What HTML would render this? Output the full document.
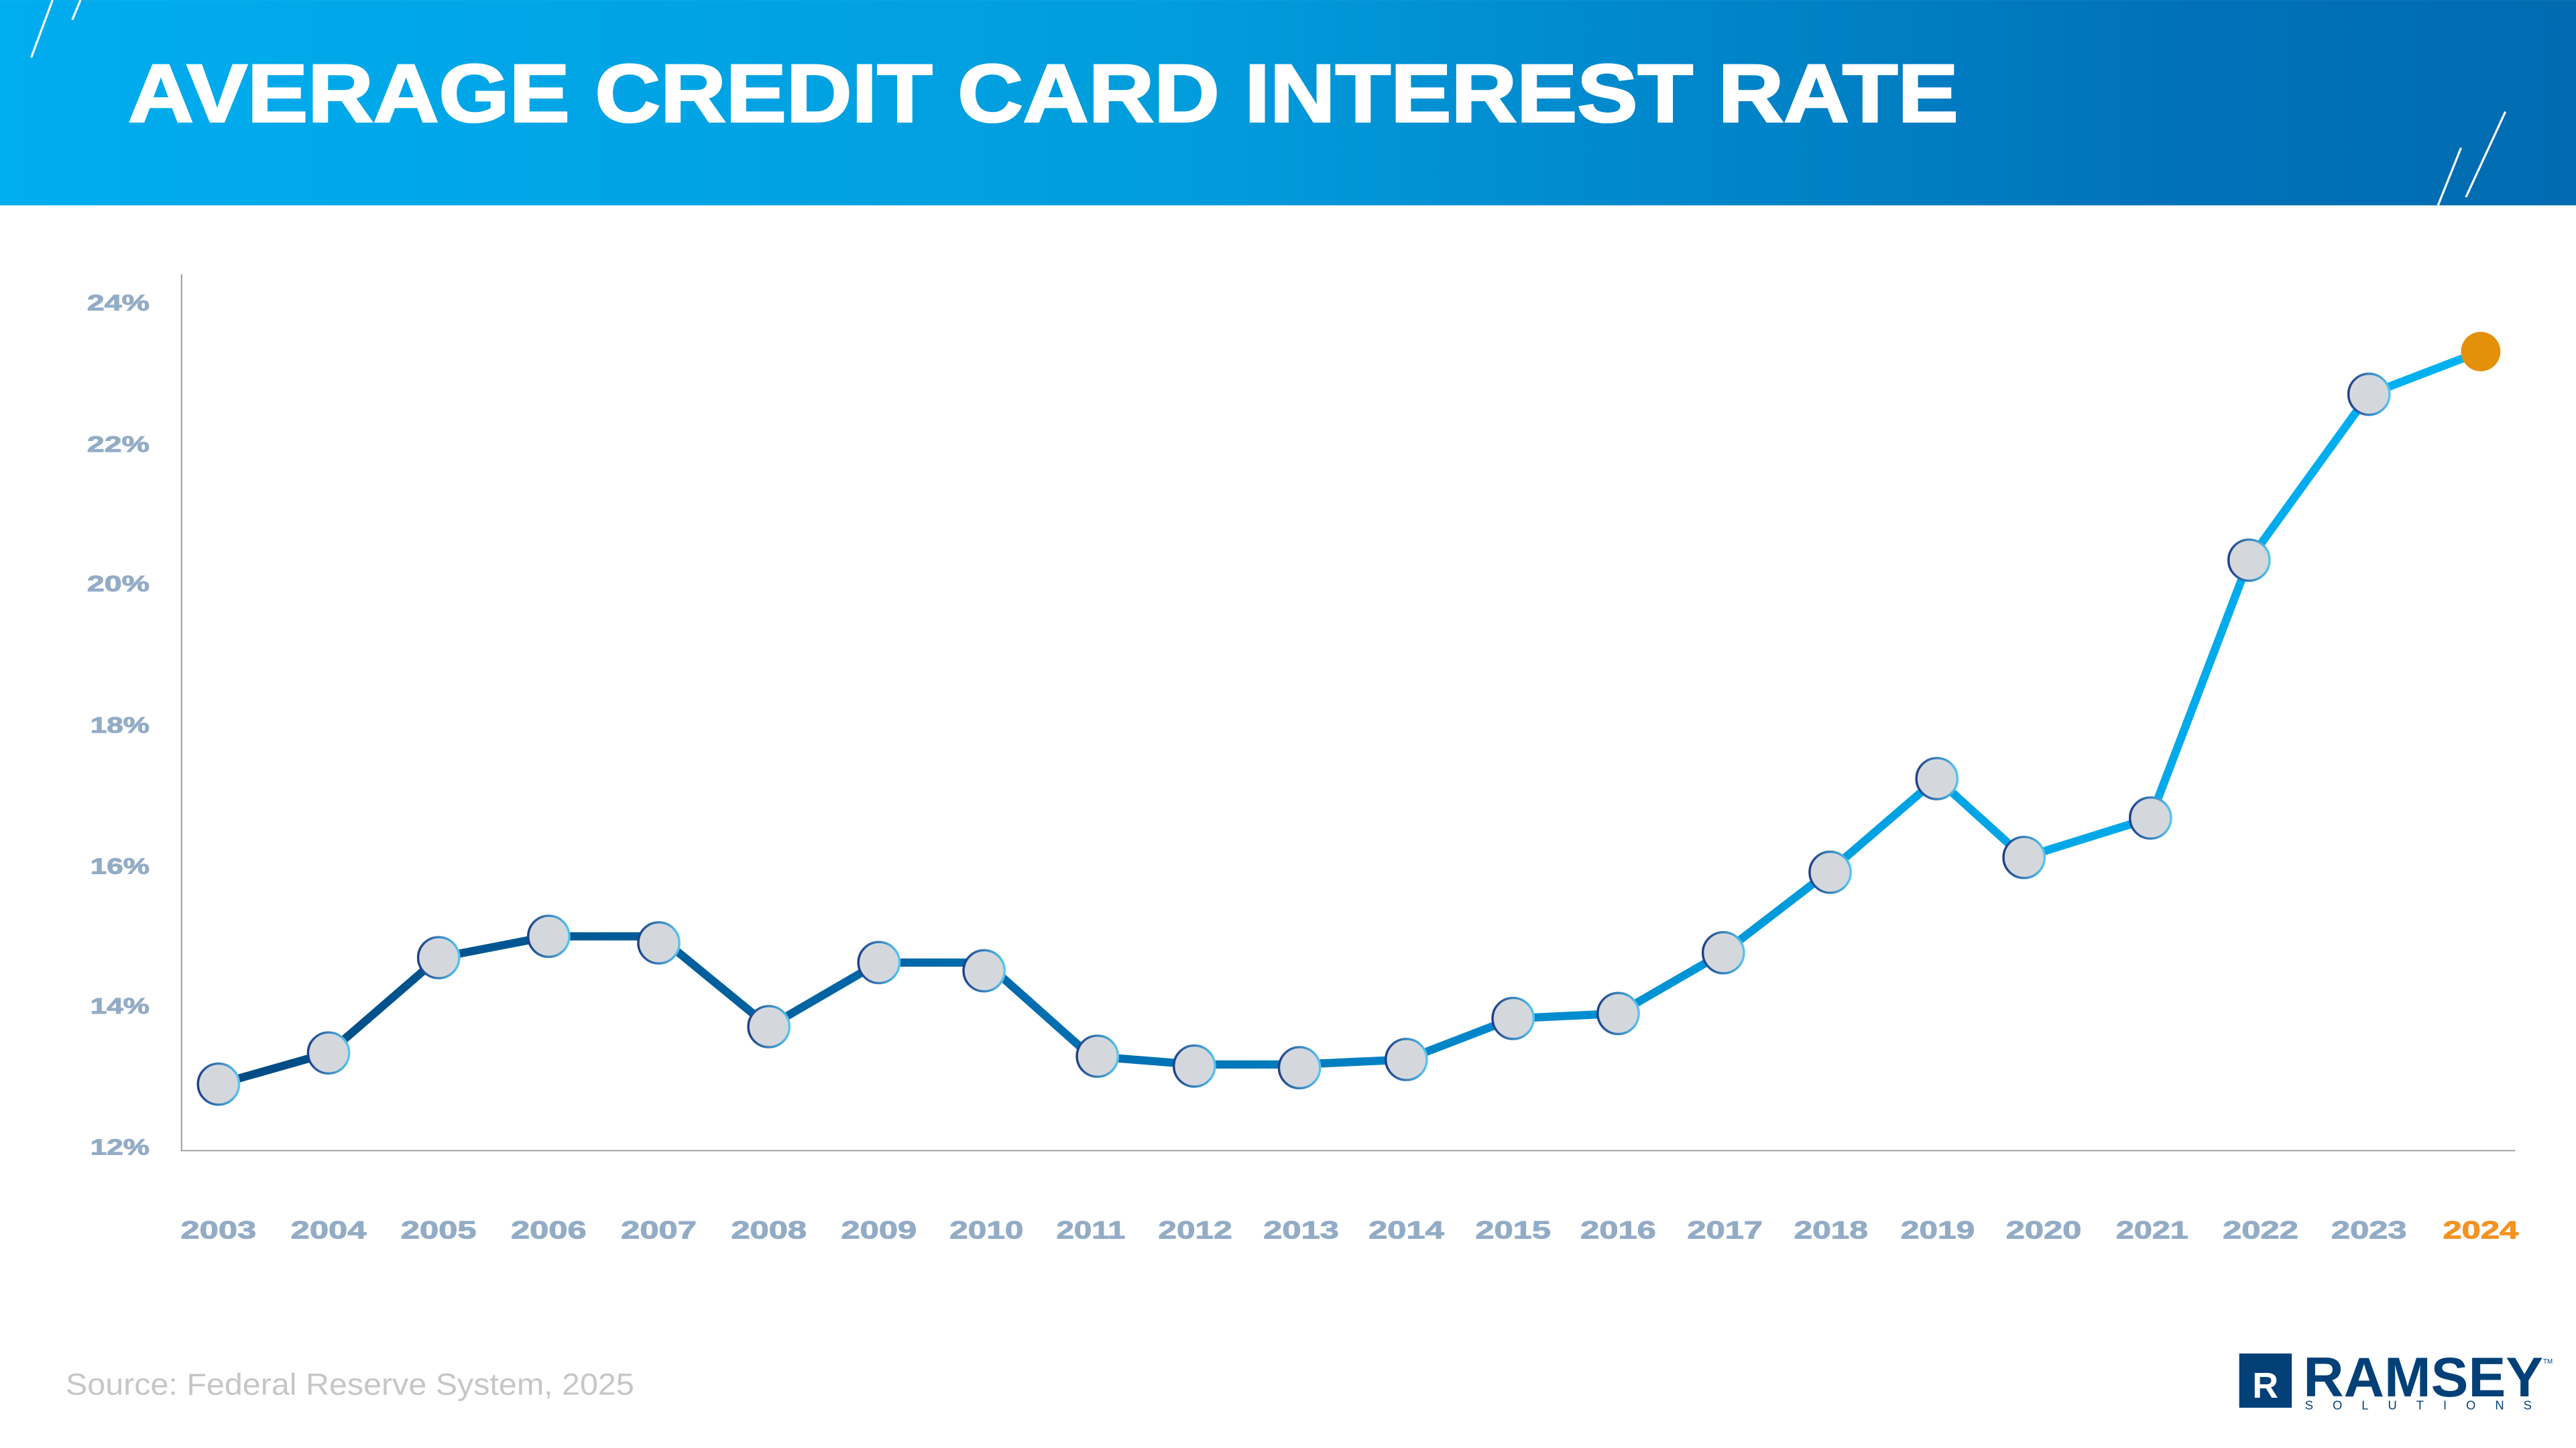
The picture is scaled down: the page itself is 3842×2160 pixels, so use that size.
<!DOCTYPE html>
<html><head><meta charset="utf-8"><style>
html,body{margin:0;padding:0;background:#fff;}
svg{display:block;}
</style></head><body>
<svg width="3842" height="2160" viewBox="0 0 1568 881.5" xmlns="http://www.w3.org/2000/svg">
<defs>
<linearGradient id="hdr" x1="0" y1="0" x2="1" y2="0">
<stop offset="0" stop-color="#00adef"/><stop offset="0.45" stop-color="#019ddd"/><stop offset="0.85" stop-color="#0071b9"/><stop offset="1" stop-color="#006bb0"/>
</linearGradient>
<linearGradient id="ln" gradientUnits="userSpaceOnUse" x1="133" y1="0" x2="1510" y2="0">
<stop offset="0" stop-color="#004a82"/><stop offset="0.4" stop-color="#0071b3"/><stop offset="0.75" stop-color="#00a3e4"/><stop offset="1" stop-color="#00b2f2"/>
</linearGradient>
<linearGradient id="mk" x1="0" y1="0" x2="1" y2="0">
<stop offset="0" stop-color="#1d3f86"/><stop offset="1" stop-color="#55c6f4"/>
</linearGradient>
</defs>
<rect x="0" y="0" width="1568" height="125" fill="url(#hdr)"/>
<g stroke="#fff" stroke-width="1.3">
<line x1="32" y1="0" x2="19" y2="35"/><line x1="49" y1="0" x2="44" y2="12"/>
<line x1="1525" y1="68" x2="1501" y2="120"/><line x1="1498" y1="90" x2="1484" y2="125"/>
</g>
<text x="78" y="74" font-family="Liberation Sans, sans-serif" font-weight="bold" font-size="50" fill="#fff" stroke="#fff" stroke-width="1.2" textLength="1114" lengthAdjust="spacingAndGlyphs">AVERAGE CREDIT CARD INTEREST RATE</text>

<line x1="110.5" y1="167" x2="110.5" y2="700" stroke="#9a9a9a" stroke-width="0.8"/>
<line x1="110" y1="700.5" x2="1531" y2="700.5" stroke="#9a9a9a" stroke-width="0.8"/>
<g font-family="Liberation Sans, sans-serif" font-weight="bold" font-size="13.5" fill="#93acc6" stroke="#93acc6" stroke-width="0.4">
<text x="53" y="189" textLength="38" lengthAdjust="spacingAndGlyphs">24%</text><text x="53" y="275" textLength="38" lengthAdjust="spacingAndGlyphs">22%</text><text x="53" y="360" textLength="38" lengthAdjust="spacingAndGlyphs">20%</text><text x="55" y="446" textLength="36" lengthAdjust="spacingAndGlyphs">18%</text><text x="55" y="532" textLength="36" lengthAdjust="spacingAndGlyphs">16%</text><text x="55" y="617" textLength="36" lengthAdjust="spacingAndGlyphs">14%</text><text x="55" y="703" textLength="36" lengthAdjust="spacingAndGlyphs">12%</text>
</g>
<g font-family="Liberation Sans, sans-serif" font-weight="bold" font-size="15" fill="#93acc6" stroke="#93acc6" stroke-width="0.4">
<text x="110" y="754" textLength="46" lengthAdjust="spacingAndGlyphs">2003</text><text x="177" y="754" textLength="46" lengthAdjust="spacingAndGlyphs">2004</text><text x="244" y="754" textLength="46" lengthAdjust="spacingAndGlyphs">2005</text><text x="311" y="754" textLength="46" lengthAdjust="spacingAndGlyphs">2006</text><text x="378" y="754" textLength="46" lengthAdjust="spacingAndGlyphs">2007</text><text x="445" y="754" textLength="46" lengthAdjust="spacingAndGlyphs">2008</text><text x="512" y="754" textLength="46" lengthAdjust="spacingAndGlyphs">2009</text><text x="578" y="754" textLength="45" lengthAdjust="spacingAndGlyphs">2010</text><text x="643" y="754" textLength="42" lengthAdjust="spacingAndGlyphs">2011</text><text x="705" y="754" textLength="45" lengthAdjust="spacingAndGlyphs">2012</text><text x="769" y="754" textLength="46" lengthAdjust="spacingAndGlyphs">2013</text><text x="833" y="754" textLength="46" lengthAdjust="spacingAndGlyphs">2014</text><text x="898" y="754" textLength="46" lengthAdjust="spacingAndGlyphs">2015</text><text x="962" y="754" textLength="46" lengthAdjust="spacingAndGlyphs">2016</text><text x="1027" y="754" textLength="46" lengthAdjust="spacingAndGlyphs">2017</text><text x="1092" y="754" textLength="45" lengthAdjust="spacingAndGlyphs">2018</text><text x="1157" y="754" textLength="45" lengthAdjust="spacingAndGlyphs">2019</text><text x="1221" y="754" textLength="46" lengthAdjust="spacingAndGlyphs">2020</text><text x="1288" y="754" textLength="44" lengthAdjust="spacingAndGlyphs">2021</text><text x="1353" y="754" textLength="46" lengthAdjust="spacingAndGlyphs">2022</text><text x="1419" y="754" textLength="46" lengthAdjust="spacingAndGlyphs">2023</text><text x="1487" y="754" textLength="46" lengthAdjust="spacingAndGlyphs" fill="#f39321" stroke="#f39321">2024</text>
</g>
<polyline fill="none" stroke="url(#ln)" stroke-width="5" stroke-linejoin="round" points="133,660 200,641 267,583 334,570 401,570 468,625 535,586 600,586 664,643 727,648 791,648 856,645 921,620 985,617 1049,580 1114,530 1179,474 1232,522 1309,498 1369,341 1442,240 1510,214"/>
<g fill="#d4d8dc" stroke="url(#mk)" stroke-width="1.4">
<circle cx="133" cy="660" r="12.5"/><circle cx="200" cy="641" r="12.5"/><circle cx="267" cy="583" r="12.5"/><circle cx="334" cy="570" r="12.5"/><circle cx="401" cy="574" r="12.5"/><circle cx="468" cy="625" r="12.5"/><circle cx="535" cy="586" r="12.5"/><circle cx="599" cy="591" r="12.5"/><circle cx="668" cy="643" r="12.5"/><circle cx="727" cy="649" r="12.5"/><circle cx="791" cy="650" r="12.5"/><circle cx="856" cy="645" r="12.5"/><circle cx="921" cy="620" r="12.5"/><circle cx="985" cy="617" r="12.5"/><circle cx="1049" cy="580" r="12.5"/><circle cx="1114" cy="531" r="12.5"/><circle cx="1179" cy="474" r="12.5"/><circle cx="1232" cy="522" r="12.5"/><circle cx="1309" cy="498" r="12.5"/><circle cx="1369" cy="341" r="12.5"/><circle cx="1442" cy="240" r="12.5"/>
</g>
<circle cx="1510" cy="214" r="12" fill="#e3900b"/>

<text x="40" y="849" font-family="Liberation Sans, sans-serif" font-size="18.5" fill="#c4c6c8" textLength="346" lengthAdjust="spacingAndGlyphs">Source: Federal Reserve System, 2025</text>
<rect x="1363" y="824" width="32" height="33" fill="#034078"/>
<text x="1371" y="851" font-family="Liberation Sans, sans-serif" font-weight="bold" font-size="22" fill="#fff">R</text>
<text x="1402" y="850" font-family="Liberation Sans, sans-serif" font-weight="bold" font-size="34" fill="#034078" textLength="146" lengthAdjust="spacingAndGlyphs">RAMSEY</text>
<text x="1403" y="858" font-family="Liberation Sans, sans-serif" font-size="7.5" fill="#034078" textLength="138" lengthAdjust="spacing">SOLUTIONS</text>
<text x="1548" y="830" font-family="Liberation Sans, sans-serif" font-size="4" fill="#034078">TM</text>
</svg>
</body></html>
